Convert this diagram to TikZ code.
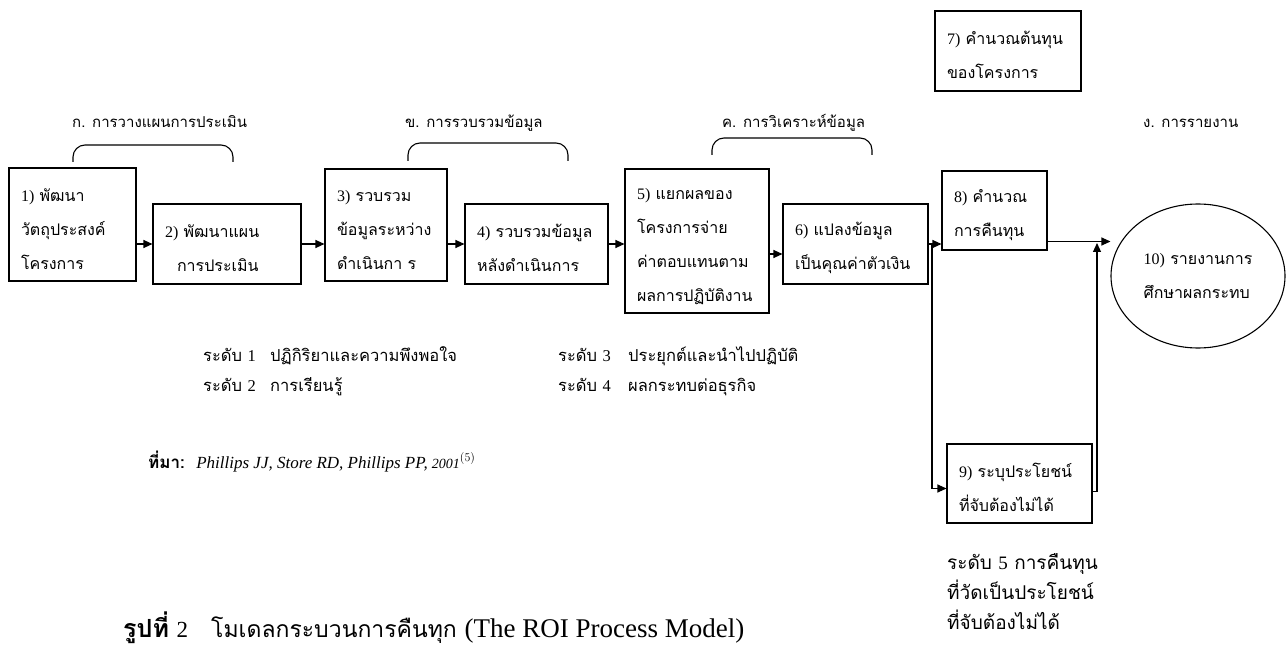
\documentclass[tikz,border=0pt]{standalone}
\usepackage{fontspec}
\setmainfont{Liberation Serif}
\newfontfamily\thaif[Script=Thai]{Loma}
\usetikzlibrary{arrows.meta,shapes.geometric}
\newcommand\lr[1]{{\rmfamily #1}}
\tikzset{
  x=1pt, y=-1pt,
  every node/.style={font=\thaif\fontsize{15}{34}\selectfont},
  box/.style={draw, line width=1.1pt, inner xsep=12pt, inner ysep=0pt, align=left,
     font=\thaif\fontsize{16}{34}\selectfont,
     execute at begin node={\rule{0pt}{22pt}}},
  lbl/.style={anchor=base west, inner sep=0pt},
  lvl/.style={lbl, font=\thaif\fontsize{16.5}{30}\selectfont},
  arr/.style={-{Triangle[length=9pt,width=8pt]}, line width=1.1pt},
  brace/.style={line width=1.1pt, rounded corners=12pt},
}
\begin{document}
\begin{tikzpicture}
\useasboundingbox (0,0) rectangle (1286,647);
% boxes
\node[box, text width=103pt, minimum height=113pt] (b1) at (72.5,224.5) {\lr{1)} พัฒนา\\วัตถุประสงค์\\โครงการ};
\node[box, text width=124pt, minimum height=80pt] (b2) at (227,244) {\lr{2)} พัฒนาแผน\\\hspace*{12pt}การประเมิน};
\node[box, text width=98pt, minimum height=112pt] (b3) at (386,225) {\lr{3)} รวบรวม\\ข้อมูลระหว่าง\\ดำเนินกา ร};
\node[box, text width=119pt, minimum height=80pt] (b4) at (536.5,244) {\lr{4)} รวบรวมข้อมูล\\หลังดำเนินการ};
\node[box, text width=120pt, minimum height=144pt] (b5) at (697,241) {\lr{5)} แยกผลของ\\โครงการจ่าย\\ค่าตอบแทนตาม\\ผลการปฏิบัติงาน};
\node[box, text width=121pt, minimum height=80pt] (b6) at (855.5,244) {\lr{6)} แปลงข้อมูล\\เป็นคุณค่าตัวเงิน};
\node[box, text width=122pt, minimum height=80pt] (b7) at (1008,51) {\lr{7)} คำนวณต้นทุน\\ของโครงการ};
\node[box, text width=81pt, minimum height=79pt] (b8) at (994.5,210.5) {\lr{8)} คำนวณ\\การคืนทุน};
\node[box, text width=121pt, minimum height=79pt] (b9) at (1019.5,483.5) {\lr{9)} ระบุประโยชน์\\ที่จับต้องไม่ได้};
\node[ellipse, draw, line width=1.1pt, minimum width=174pt, minimum height=144pt, inner sep=0pt, align=left,
  font=\thaif\fontsize{16}{34}\selectfont,
  execute at begin node={\rule{0pt}{22pt}}] (b10) at (1198,276) {\lr{10)} รายงานการ\\ศึกษาผลกระทบ};
% phase labels
\node[lbl] (la) at (72,128) {ก. การวางแผนการประเมิน};
\node[lbl] (lb) at (405,128) {ข. การรวบรวมข้อมูล};
\node[lbl] (lc) at (722,128) {ค. การวิเคราะห์ข้อมูล};
\node[lbl] (ld) at (1143,128) {ง. การรายงาน};
% braces
\draw[brace] (73,162) |- (233,145) -- (233,162);
\draw[brace] (408,161) |- (568,143) -- (568,161);
\draw[brace] (712,155) |- (872,138) -- (872,155);
% connectors
\draw[arr] (b1.east |- b2.west) -- (b2.west);
\draw[arr] (b2.east) -- (b2.east -| b3.west);
\draw[arr] (b3.east |- b4.west) -- (b4.west);
\draw[arr] (b4.east) -- (b4.east -| b5.west);
\coordinate (a56) at ([yshift=-10pt]b6.west);
\draw[arr] (a56 -| b5.east) -- (a56);
\draw[arr] (b6.east) -- (b6.east -| b8.west);
\coordinate (j1) at (932,244);
\coordinate (a9) at ([yshift=-5pt]b9.west);
\draw[arr] (j1) |- (a9);
\coordinate (a8) at ([yshift=-31pt]b8.east);
\draw[arr] (a8) -- (a8 -| b10.west);
\coordinate (a9e) at ([yshift=-8pt]b9.east);
\coordinate (j2) at (1097,243);
\draw[arr] (a9e) -| (j2);
% levels
\node[lvl] (l1) at (203,361) {ระดับ \lr{1}};
\node[lvl] (l1t) at (270,361) {ปฏิกิริยาและความพึงพอใจ};
\node[lvl] (l2) at (203,391) {ระดับ \lr{2}};
\node[lvl] (l2t) at (270,391) {การเรียนรู้};
\node[lvl] (l3) at (558,361) {ระดับ \lr{3}};
\node[lvl] (l3t) at (628,361) {ประยุกต์และนำไปปฏิบัติ};
\node[lvl] (l4) at (558,391) {ระดับ \lr{4}};
\node[lvl] (l4t) at (628,391) {ผลกระทบต่อธุรกิจ};
% source
\node[lbl, font=\thaif\fontsize{17}{20}\selectfont] (src) at (148,468) {{\bfseries ที่มา:}\ \ {\rmfamily\itshape Phillips JJ, Store RD, Phillips PP, {\fontsize{14}{14}\selectfont 2001}$^{\scriptstyle(5)}$}};
% level 5
\node[lbl, align=left, anchor=north west, font=\thaif\fontsize{19}{30}\selectfont] (l5) at (947,553) {ระดับ \lr{5} การคืนทุน\\ที่วัดเป็นประโยชน์\\ที่จับต้องไม่ได้};
% caption
\node[lbl, font=\thaif\fontsize{23}{26}\selectfont] (cap) at (123,637) {{\bfseries\fontsize{25}{26}\selectfont รูปที่} \lr{2}\quad โมเดลกระบวนการคืนทุก {\rmfamily\fontsize{27}{28}\selectfont (The ROI Process Model)}};
\end{tikzpicture}
\end{document}
